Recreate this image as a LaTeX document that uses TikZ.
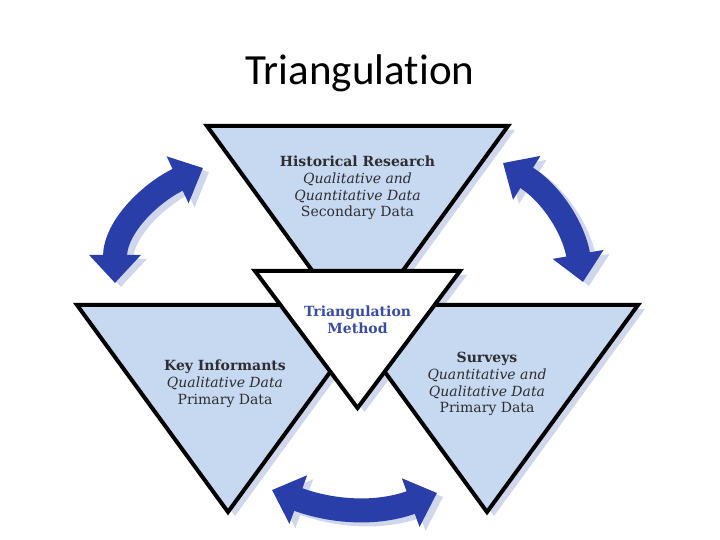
\documentclass[tikz,border=0pt]{standalone}
\usepackage{fontspec}
\setmainfont{DejaVu Serif}
\newfontfamily\titlefont[Ligatures=NoCommon]{Carlito}
\usetikzlibrary{arrows.meta}

\definecolor{triblue}{RGB}{198,217,241}
\definecolor{shadeblue}{RGB}{208,215,236}
\definecolor{arrowblue}{RGB}{42,62,170}
\definecolor{methodblue}{RGB}{58,76,160}
\definecolor{textgray}{RGB}{45,45,50}

\begin{document}
\begin{tikzpicture}[x=1pt,y=1pt,
  tri/.style={fill=triblue,draw=black,line width=4pt,line join=miter},
  midtri/.style={fill=white,draw=black,line width=4pt,line join=miter},
  trishade/.style={fill=shadeblue},
  label text/.style={align=center,text=textgray,font=\fontsize{14}{16.8}\selectfont},
  bigarrow/.style={draw=arrowblue,line width=24pt,{Triangle[length=28pt,width=50pt]}-{Triangle[length=28pt,width=50pt]}},
  arrowshade/.style={bigarrow,draw=shadeblue,transform canvas={shift={(6pt,-4pt)}}}]

    \useasboundingbox (0,0) rectangle (720,540);

    \node[font=\titlefont\fontsize{43}{50}\selectfont,anchor=base] (title) at (360,455) {Triangulation};

    % shadows of the triangles
    \begin{scope}[shift={(7,-4)}]
        \fill[trishade] (207,414) -- (508,414) -- (357.5,207) -- cycle;
        \fill[trishade] (77,235) -- (379,235) -- (228,28) -- cycle;
        \fill[trishade] (336,235) -- (638,235) -- (487,28) -- cycle;
        \fill[trishade] (255,269) -- (460,269) -- (357.5,132) -- cycle;
    \end{scope}

    % triangles
    \draw[tri] (207,414) -- (508,414) -- (357.5,207) -- cycle;
    \draw[tri] (77,235) -- (379,235) -- (228,28) -- cycle;
    \draw[tri] (336,235) -- (638,235) -- (487,28) -- cycle;
    \draw[midtri] (255,269) -- (460,269) -- (357.5,132) -- cycle;

    \node[label text] (hist) at (357.5,352) {\textbf{Historical Research}\\ \textit{Qualitative and}\\ \textit{Quantitative Data}\\ Secondary Data};
    \node[label text] (keyinf) at (225,156) {\textbf{Key Informants}\\ \textit{Qualitative Data}\\ Primary Data};
    \node[label text] (surveys) at (487,156) {\textbf{Surveys}\\ \textit{Quantitative and}\\ \textit{Qualitative Data}\\ Primary Data};
    \node[label text,text=methodblue,font=\bfseries\fontsize{14}{16.8}\selectfont] (method) at (357.5,220) {Triangulation\\ Method};

    % arrow ends
    \coordinate (ul1) at (115,257);
    \coordinate (ul2) at (203,372);
    \coordinate (ur1) at (503,377);
    \coordinate (ur2) at (583,258);
    \coordinate (bt1) at (272,50);
    \coordinate (bt2) at (437,47);

    \draw[arrowshade] (ul1) to[out=90,in=205] (ul2);
    \draw[arrowshade] (ur1) to[out=-32,in=100] (ur2);
    \draw[arrowshade] (bt1) to[out=-20,in=200] (bt2);

    \draw[bigarrow] (ul1) to[out=90,in=205] (ul2);
    \draw[bigarrow] (ur1) to[out=-32,in=100] (ur2);
    \draw[bigarrow] (bt1) to[out=-20,in=200] (bt2);
\end{tikzpicture}
\end{document}
